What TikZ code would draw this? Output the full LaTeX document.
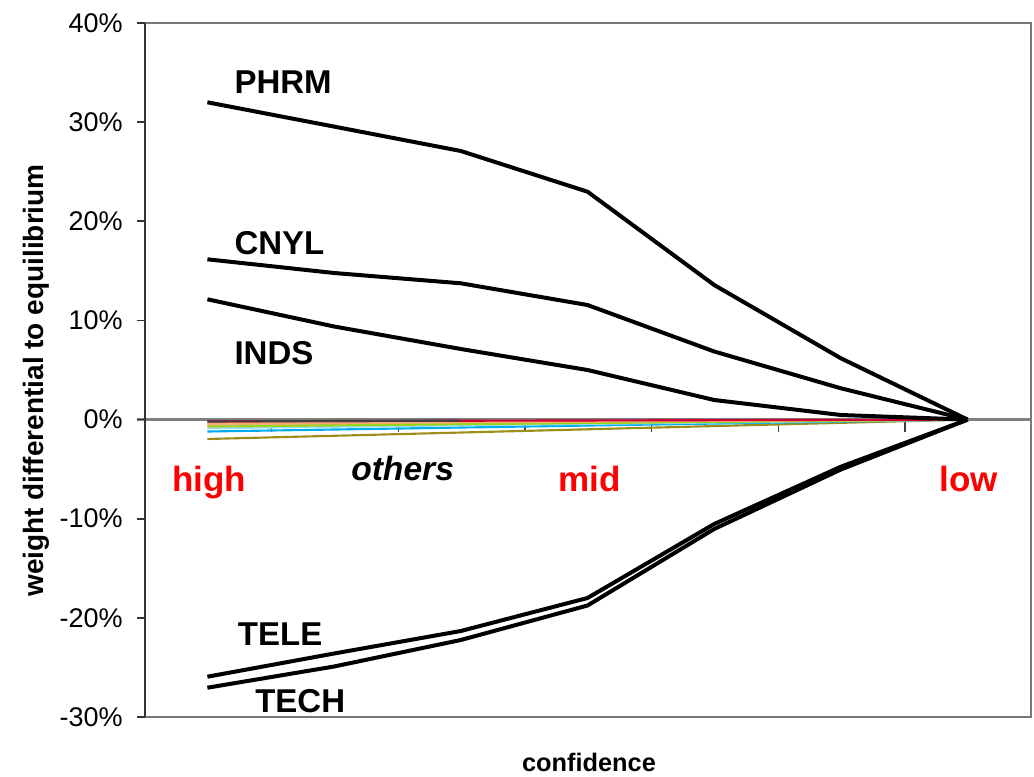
\documentclass[tikz,border=0pt]{standalone}
\usepackage{fontspec}
\setmainfont{Liberation Sans}
\begin{document}
\begin{tikzpicture}[x=0.75pt,y=-0.75pt,
  ticklab/.style={anchor=east,inner sep=0pt,font=\fontsize{20.25}{22}\selectfont},
  serlab/.style={anchor=base west,inner sep=0pt,font=\fontsize{24.75}{26}\selectfont\bfseries},
  conflab/.style={anchor=base west,inner sep=0pt,text=red,font=\fontsize{26.25}{28}\selectfont\bfseries},
  mainser/.style={line width=3pt,line join=miter,black},
  othser/.style={line width=1.6pt,line join=round},
  frame/.style={line width=1.3pt,draw=gray!95!black},
  axisln/.style={line width=1.3pt,draw=black!80},
  xtick/.style={line width=1pt,draw=black!75}]
\useasboundingbox (0,0) rectangle (1034,777);
% frame
\draw[frame] (137,23) -- (1031,23) -- (1031,717) -- (145,717);
% zero line
\draw[line width=2pt,gray] (137,419.6) -- (1031,419.6);
% y axis + ticks
\draw[axisln] (145,23) -- (145,717);
\foreach \yy in {23,122.1,221.3,320.4,419.6,518.7,617.9,717} {\draw[axisln] (137,\yy) -- (145,\yy);}
% x ticks
\foreach \xx in {271.7,398.3,525,651.7,778.3,905} {\draw[xtick] (\xx,419.6) -- (\xx,432);}
% tick labels
\node[ticklab] (t40) at (123,23) {40\%};
\node[ticklab] (t30) at (123,122.1) {30\%};
\node[ticklab] (t20) at (123,221.3) {20\%};
\node[ticklab] (t10) at (123,320.4) {10\%};
\node[ticklab] (t0) at (123,419.6) {0\%};
\node[ticklab] (tm10) at (123,518.7) {-10\%};
\node[ticklab] (tm20) at (123,617.9) {-20\%};
\node[ticklab] (tm30) at (123,717) {-30\%};
% other series
\draw[othser,color=olive!70!brown] (207.4,439) -- (967.6,419.6);
\draw[othser,color=cyan] (207.4,431.5) -- (967.6,419.6);
\draw[othser,color=cyan!40!white] (207.4,428.2) -- (967.6,419.6);
\draw[othser,color=orange!45!brown!60!white] (207.4,424.8) -- (967.6,419.6);
\draw[othser,color=yellow!60!green] (207.4,426.6) -- (967.6,419.6);
\draw[othser,color=orange!40!pink] (207.4,423.4) -- (967.6,419.6);
\draw[othser,color=purple!80!red] (207.4,421.3) -- (967.6,419.6);
\draw[othser,color=black!75] (207.4,421.5) -- (460.8,420.6);
% main series
\draw[mainser] (207.4,102.3) -- (334.1,126.6) -- (460.8,151) -- (587.5,191.7) -- (714.2,285) -- (840.9,358.3) -- (967.6,419.6);
\draw[mainser] (207.4,259.3) -- (334.1,273) -- (460.8,283.3) -- (587.5,305) -- (714.2,351.5) -- (840.9,388.3) -- (967.6,419.6);
\draw[mainser] (207.4,299.3) -- (334.1,326.5) -- (460.8,349) -- (587.5,370) -- (714.2,400) -- (840.9,415) -- (967.6,419.6);
\draw[mainser] (207.4,676.7) -- (334.1,653.5) -- (460.8,631) -- (587.5,598) -- (714.2,524) -- (840.9,466.7) -- (967.6,419.6);
\draw[mainser] (207.4,687.7) -- (334.1,666.5) -- (460.8,640) -- (587.5,605.5) -- (714.2,529) -- (840.9,469.5) -- (967.6,419.6);
% series labels
\node[serlab] (phrm) at (234.3,93.3) {PHRM};
\node[serlab] (cnyl) at (234.3,254.3) {CNYL};
\node[serlab] (inds) at (234.3,364) {INDS};
\node[serlab] (tele) at (237.7,645.7) {TELE};
\node[serlab] (tech) at (255,712.7) {TECH};
\node[anchor=base west,inner sep=0pt,font=\fontsize{25.2}{27}\selectfont\bfseries\itshape] (others) at (351,480) {others};
% confidence labels
\node[conflab] (high) at (172,491.7) {high};
\node[conflab] (mid) at (558.5,491.7) {mid};
\node[conflab] (low) at (939,491.7) {low};
% axis titles
\node[rotate=90,inner sep=0pt,font=\fontsize{21}{23}\selectfont\bfseries] (ytitle) at (36,380.5) {weight differential to equilibrium};
\node[inner sep=0pt,anchor=base,font=\fontsize{19}{21}\selectfont\bfseries] (xtitle) at (589,771) {confidence};
\end{tikzpicture}
\end{document}
